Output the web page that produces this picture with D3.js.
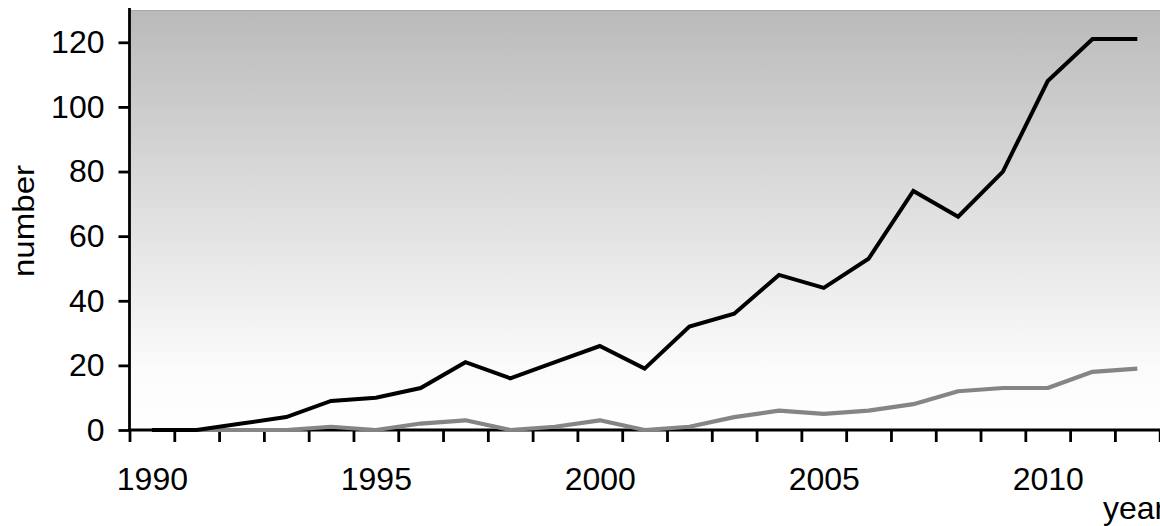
<!DOCTYPE html>
<html>
<head>
<meta charset="utf-8">
<script src="https://cdn.jsdelivr.net/npm/d3@7"></script>
<style>
  html, body { margin: 0; padding: 0; background: #fff; }
  svg { display: block; font-family: "Liberation Sans", Arial, sans-serif; }
</style>
</head>
<body>
<svg id="chart" width="1160" height="526"></svg>
<script>
const years = d3.range(1990, 2013);
const seriesBlack = [0, 0, 2, 4, 9, 10, 13, 21, 16, 21, 26, 19, 32, 36, 48, 44, 53, 74, 66, 80, 108, 121, 121];
const seriesGray  = [0, 0, 0, 0, 1, 0, 2, 3, 0, 1, 3, 0, 1, 4, 6, 5, 6, 8, 12, 13, 13, 18, 19];
const yTicks = [0, 20, 40, 60, 80, 100, 120];
const xLabelYears = [1990, 1995, 2000, 2005, 2010];
const yLabel = "number";
const xLabel = "year";

(function () {
const svg = d3.select("#chart");
const pLeft = 129.5, pRight = 1159.7, pTop = 10, pBottom = 430;

const x = d3.scaleLinear().domain([1989.5, 2012.5]).range([pLeft, pRight]);
const y = d3.scaleLinear().domain([0, 130]).range([pBottom, pTop]);

// gradient background
const defs = svg.append("defs");
const grad = defs.append("linearGradient").attr("id", "bg").attr("x1", 0).attr("y1", 0).attr("x2", 0).attr("y2", 1);
grad.append("stop").attr("offset", "0%").attr("stop-color", "#bababa");
grad.append("stop").attr("offset", "45%").attr("stop-color", "#dddddd");
grad.append("stop").attr("offset", "85%").attr("stop-color", "#fbfbfb");
grad.append("stop").attr("offset", "100%").attr("stop-color", "#ffffff");

svg.append("rect")
  .attr("x", pLeft).attr("y", pTop)
  .attr("width", 1160 - pLeft).attr("height", pBottom - pTop)
  .attr("fill", "url(#bg)");
svg.append("line")
  .attr("x1", pLeft).attr("x2", 1160).attr("y1", pTop + 0.5).attr("y2", pTop + 0.5)
  .attr("stroke", "#aaa").attr("stroke-width", 1);

// axes
const yAxis = d3.axisLeft(y).tickValues(yTicks).tickSize(11).tickPadding(14);
const gy = svg.append("g").attr("transform", `translate(${pLeft},0)`).call(yAxis);
gy.select(".domain").remove();
gy.append("line").attr("x1", 0).attr("x2", 0).attr("y1", 8).attr("y2", pBottom)
  .attr("stroke", "#000").attr("stroke-width", 2.8);
gy.selectAll(".tick line").attr("stroke", "#000").attr("stroke-width", 2.8);
gy.selectAll(".tick text").attr("font-size", 32).attr("fill", "#000")
  .attr("font-family", "Liberation Sans, Arial, sans-serif");

const xTickAxis = d3.axisBottom(x).tickValues(d3.range(1989.5, 2013, 1)).tickSize(12).tickFormat("");
const gx = svg.append("g").attr("transform", `translate(0,${pBottom})`).call(xTickAxis);
gx.select(".domain").remove();
gx.append("line").attr("x1", pLeft).attr("x2", 1160).attr("y1", 0).attr("y2", 0)
  .attr("stroke", "#000").attr("stroke-width", 2.8);
gx.selectAll(".tick line").attr("stroke", "#000").attr("stroke-width", 2.8);

const xLabAxis = d3.axisBottom(x).tickValues(xLabelYears).tickSize(0).tickPadding(37).tickFormat(d3.format("d"));
const gxl = svg.append("g").attr("transform", `translate(0,${pBottom})`).call(xLabAxis);
gxl.select(".domain").remove();
gxl.selectAll(".tick text").attr("font-size", 32).attr("fill", "#000")
  .attr("font-family", "Liberation Sans, Arial, sans-serif");

// lines
const line = d3.line().x((d, i) => x(years[i])).y(d => y(d));
svg.append("path").datum(seriesGray).attr("d", line)
  .attr("fill", "none").attr("stroke", "#858585").attr("stroke-width", 4.2).attr("stroke-linejoin", "round");
svg.append("path").datum(seriesBlack).attr("d", line)
  .attr("fill", "none").attr("stroke", "#000").attr("stroke-width", 4).attr("stroke-linejoin", "miter");

// axis titles
svg.append("text")
  .attr("transform", "translate(34,221) rotate(-90)")
  .attr("text-anchor", "middle")
  .attr("font-size", 30).attr("textLength", 112).attr("lengthAdjust", "spacingAndGlyphs")
  .attr("fill", "#000")
  .text(yLabel);
svg.append("text")
  .attr("x", 1103).attr("y", 519)
  .attr("font-size", 32).attr("fill", "#000")
  .text(xLabel);
})();
</script>
</body>
</html>
